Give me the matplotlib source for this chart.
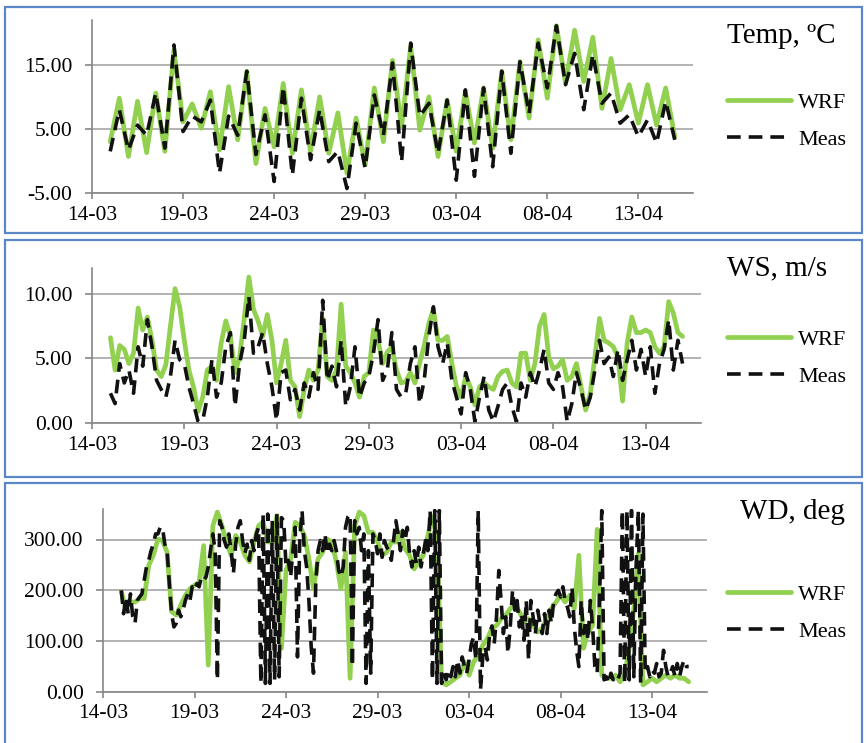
import numpy as np
import pandas as pd
import matplotlib
matplotlib.use("Agg")
import matplotlib.pyplot as plt
import matplotlib.dates as mdates
from matplotlib.patches import Rectangle

plt.rcParams['font.family'] = ['Liberation Serif', 'DejaVu Serif']

# ---- data ----
# temperature, every 12 h from 15-03 00:00
temp_wrf = [3.0, 9.8, 0.7, 9.3, 1.3, 10.6, 1.5, 17.3, 6.1, 8.9,
            5.1, 10.8, 1.7, 11.6, 3.3, 14.0, -0.4, 8.2, 2.2, 12.1,
            1.2, 11.1, 1.5, 10.0, 1.2, 7.5, -1.9, 6.7, -0.6, 11.4,
            3.0, 15.7, 5.4, 17.9, 4.8, 10.0, 0.7, 9.5, 1.5, 10.8,
            2.8, 11.4, 2.0, 14.0, 3.3, 15.5, 6.7, 18.9, 9.8, 21.1,
            12.1, 20.4, 12.4, 19.3, 8.2, 16.0, 8.0, 11.9, 5.9, 11.9,
            5.6, 11.4, 3.8]
temp_meas = [1.5, 8.0, 1.7, 5.6, 4.0, 10.6, 2.0, 18.1, 4.6, 7.0,
             6.1, 9.5, -1.9, 7.0, 4.0, 14.0, 1.0, 7.2, -3.2, 11.6,
             -2.2, 9.8, 0.2, 8.0, -0.1, 1.5, -4.3, 5.9, -1.1, 10.3,
             4.0, 15.3, -0.1, 18.4, 7.0, 9.0, 1.2, 9.5, -3.0, 11.1,
             -2.4, 11.4, -0.9, 14.0, 1.2, 15.5, 7.4, 18.4, 11.4, 21.1,
             11.9, 16.8, 8.0, 16.6, 9.0, 10.6, 5.9, 7.2, 3.8, 6.4,
             2.8, 9.3, 3.3]

# wind speed, every 6 h
ws_wrf = [6.6, 4.1, 6.0, 5.7, 4.6, 5.4, 8.9, 7.2, 8.2, 6.4, 4.1, 3.6,
          4.5, 7.5, 10.4, 9.0, 6.4, 4.1, 2.8, 0.9, 2.0, 4.1, 4.4, 3.3,
          6.2, 7.9, 6.7, 3.9, 5.1, 8.1, 11.3, 8.8, 7.9, 6.7, 8.4, 6.4,
          3.1, 4.6, 6.4, 3.3, 2.8, 0.5, 2.6, 4.1, 3.3, 4.1, 8.1, 3.6,
          3.3, 4.1, 9.2, 4.4, 3.9, 3.1, 2.0, 3.6, 3.9, 7.2, 6.4, 4.6,
          5.5, 5.9, 4.1, 3.1, 3.2, 3.9, 3.1, 4.6, 6.0, 7.7, 8.8, 6.4,
          6.4, 6.7, 4.6, 2.8, 2.0, 3.6, 2.8, 1.4, 2.8, 3.1, 2.8, 2.6,
          3.6, 4.0, 4.1, 3.1, 2.8, 5.4, 5.4, 3.3, 4.6, 7.5, 8.4, 5.1,
          4.2, 4.4, 4.9, 3.3, 3.6, 4.6, 2.8, 1.0, 2.3, 5.1, 8.1, 6.4,
          6.2, 5.9, 5.1, 1.7, 6.2, 8.2, 7.0, 7.0, 7.2, 7.0, 5.9, 5.4,
          5.9, 9.4, 8.5, 7.0, 6.7]
ws_meas = [2.3, 1.5, 4.6, 3.1, 4.1, 2.3, 5.9, 4.4, 8.0, 5.9, 3.3, 2.6,
           2.0, 3.6, 6.4, 4.9, 4.6, 2.8, 1.5, 0.1, 0.2, 2.0, 4.9, 2.0,
           3.1, 5.9, 7.0, 1.3, 4.6, 6.4, 9.8, 5.4, 5.9, 7.0, 4.6, 2.8,
           0.2, 3.9, 4.1, 1.8, 2.6, 1.0, 3.1, 2.0, 3.9, 2.6, 9.5, 3.3,
           4.4, 2.8, 6.4, 1.3, 2.8, 5.9, 2.0, 3.1, 3.6, 5.4, 8.0, 3.3,
           4.1, 7.0, 2.6, 2.0, 2.3, 4.6, 5.9, 1.5, 3.3, 6.7, 9.0, 5.9,
           4.6, 6.2, 3.3, 2.0, 0.7, 3.9, 2.6, 0.1, 2.0, 3.6, 1.0, 0.1,
           1.3, 2.6, 3.1, 1.3, 0.1, 3.1, 2.0, 3.9, 2.8, 4.1, 5.7, 3.1,
           2.6, 3.9, 2.8, 0.1, 1.5, 3.9, 2.6, 1.0, 2.0, 4.1, 6.4, 4.6,
           5.1, 3.6, 5.7, 3.3, 4.9, 6.4, 4.1, 5.7, 3.6, 5.9, 2.3, 4.6,
           5.7, 8.0, 4.1, 6.4, 4.6]

# wind direction, model every 6 h, measurements every 3 h
wd_wrf = [197, 164, 177, 177, 184, 184, 249, 269, 301, 298, 275, 158,
          151, 171, 190, 203, 210, 216, 288, 53, 327, 354, 327, 295,
          269, 308, 295, 269, 256, 295, 327, 334, 295, 295, 347, 86,
          240, 260, 334, 327, 308, 262, 203, 262, 275, 301, 295, 256,
          203, 275, 27, 327, 354, 347, 314, 314, 295, 269, 275, 295,
          295, 314, 282, 269, 242, 256, 269, 308, 345, 300, 20, 14,
          20, 27, 33, 59, 33, 59, 73, 92, 105, 125, 131, 144,
          151, 164, 171, 158, 138, 144, 131, 118, 125, 144, 164, 177,
          190, 177, 190, 164, 269, 86, 118, 131, 320, 33, 27, 27,
          33, 20, 33, 86, 164, 272, 14, 20, 27, 20, 27, 33,
          27, 33, 27, 27, 20]
wd_meas = [200, 154, 187, 154, 193, 148, 135, 180,
           187, 193, 220, 246, 259, 278, 291, 311,
           311, 324, 324, 291, 278, 213, 154, 128,
           135, 161, 148, 161, 180, 193, 180, 207,
           200, 213, 207, 226, 220, 226, 246, 278,
           311, 278, 24, 337, 324, 298, 285, 311,
           278, 233, 291, 324, 337, 298, 272, 291,
           259, 298, 278, 311, 324, 17, 350, 17,
           350, 17, 337, 24, 350, 30, 343, 337,
           246, 259, 226, 278, 324, 69, 300, 357,
           278, 246, 180, 89, 37, 213, 278, 298,
           278, 311, 272, 291, 278, 298, 278, 239,
           226, 246, 324, 344, 350, 50, 337, 311,
           324, 278, 311, 17, 278, 37, 311, 298,
           272, 311, 265, 298, 285, 278, 259, 298,
           337, 311, 278, 318, 298, 324, 272, 246,
           278, 252, 285, 246, 272, 298, 278, 357,
           24, 357, 17, 357, 17, 37, 24, 43,
           30, 50, 30, 63, 37, 69, 50, 37,
           63, 95, 108, 63, 357, 4, 69, 89,
           63, 115, 130, 95, 148, 239, 180, 115,
           148, 76, 128, 200, 161, 180, 128, 154,
           102, 180, 63, 180, 148, 115, 161, 135,
           115, 154, 115, 161, 135, 180, 193, 200,
           187, 207, 180, 167, 148, 207, 128, 82,
           50, 180, 115, 141, 102, 180, 128, 50,
           37, 180, 357, 24, 30, 17, 37, 24,
           30, 24, 37, 357, 17, 357, 24, 357,
           30, 246, 357, 17, 350, 37, 50, 30,
           43, 37, 56, 30, 37, 82, 50, 30,
           37, 50, 30, 56, 30, 50, 63, 50,
           50]

titles = ["Temp, ºC", "WS, m/s", "WD, deg"]
tick_dates = pd.date_range("2013-03-14", periods=7, freq="5D")

t12 = pd.date_range("2013-03-15", periods=len(temp_wrf), freq="12h")
t6 = pd.date_range("2013-03-15", periods=len(ws_wrf), freq="6h")
t3 = pd.date_range("2013-03-15", periods=len(wd_meas), freq="3h")

W, H = 868, 743
fig = plt.figure(figsize=(W / 100, H / 100), dpi=100)

def fx(px):
    return px / W

def fy(py):
    return 1 - py / H

# blue frames round each panel
for top, bot in [(7, 233), (240, 477), (483, 748)]:
    fig.add_artist(Rectangle((fx(5), fy(bot)), fx(857), (bot - top) / H,
                             transform=fig.transFigure, fill=False,
                             edgecolor="#5B86C8", lw=1.6))

green = "#92D050"
panels = [
    # x0, x1, ytop, ybot, ylim, yticks, series, title pos, legend y
    (92, 693, 20, 193, (-5, 22), [-5, 5, 15], (t12, temp_wrf, t12, temp_meas), (727, 36), 121),
    (92, 701, 268, 423, (0, 12), [0, 5, 10], (t6, ws_wrf, t6, ws_meas), (727, 268), 358),
    (103, 707, 509, 692, (0, 360), [0, 100, 200, 300], (t6, wd_wrf, t3, wd_meas), (740, 512), 613),
]

for i, (x0, x1, yt, yb, ylim, yticks, ser, tpos, legy) in enumerate(panels):
    ax = fig.add_axes([fx(x0), fy(yb), (x1 - x0) / W, (yb - yt) / H])
    tw, vw, tm, vm = ser
    ax.plot(tw, vw, color=green, lw=3.4, label="WRF",
            solid_joinstyle="round", solid_capstyle="round")
    ax.plot(tm, vm, color="#111111", lw=2.6, dashes=(3.8, 2.2), label="Meas")
    ax.set_xlim(pd.Timestamp("2013-03-14"), pd.Timestamp("2013-04-16"))
    ax.set_ylim(*ylim)
    ax.set_yticks(yticks)
    ax.yaxis.set_major_formatter(plt.FormatStrFormatter("%.2f"))
    ax.set_xticks(tick_dates)
    ax.xaxis.set_major_formatter(mdates.DateFormatter("%d-%m"))
    ax.grid(axis="y", color="#A6A6A6", lw=1.2)
    ax.set_axisbelow(True)
    for s in ["top", "right"]:
        ax.spines[s].set_visible(False)
    for s in ["left", "bottom"]:
        ax.spines[s].set_color("#868686")
        ax.spines[s].set_linewidth(1.2)
    ax.tick_params(axis="y", length=5, width=1.2, color="#868686", pad=9, labelsize=15.5)
    ax.tick_params(axis="x", length=4, width=1.2, color="#868686", pad=5, labelsize=15.5)
    fig.text(fx(tpos[0]), fy(tpos[1]), titles[i], fontsize=21, va="center", ha="left")
    ax.legend(loc="center left", bbox_to_anchor=(fx(727), fy(legy)),
              bbox_transform=fig.transFigure, frameon=False, fontsize=16,
              handlelength=2.9, handletextpad=0.3, labelspacing=0.75,
              borderpad=0, borderaxespad=0)

fig.savefig("out.png", dpi=100, facecolor="white")
